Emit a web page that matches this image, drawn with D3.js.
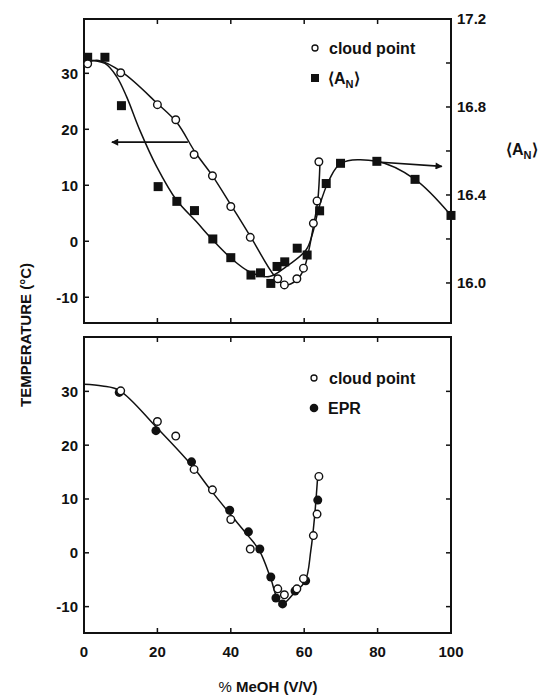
<!DOCTYPE html>
<html>
<head>
<meta charset="utf-8">
<script src="https://cdn.jsdelivr.net/npm/d3@7"></script>
<style>
  body { margin: 0; background: #fff; }
  text { font-family: "Liberation Sans", Arial, sans-serif; font-weight: bold; fill: #111; }
</style>
</head>
<body>
<script>
var width = 559,
    height = 696;

// cloud point (both panels, first point only in top panel)
var cloudX = [1, 10, 20, 25, 30, 35, 40, 45.3, 52.8, 54.6, 58, 59.8, 62.5, 63.5, 64];
var cloudT = [31.7, 30.1, 24.4, 21.7, 15.5, 11.7, 6.2, 0.7, -6.7, -7.8, -6.7, -4.8, 3.2, 7.2, 14.2];

// <A_N> squares, top panel, right axis
var anX = [1, 5.7, 10.2, 20.2, 25.3, 30.1, 35.1, 40, 45.5, 48.1, 50.9, 52.6, 54.7, 58.1, 60.8, 64.2, 66, 69.9, 79.8, 90.2, 100];
var anV = [17.026, 17.026, 16.806, 16.438, 16.371, 16.329, 16.2, 16.115, 16.036, 16.046, 15.998, 16.075, 16.096, 16.158, 16.127, 16.328, 16.452, 16.544, 16.553, 16.471, 16.307];

// EPR, bottom panel
var eprX = [9.6, 19.6, 29.3, 39.7, 44.8, 47.9, 50.9, 52.3, 54.1, 57.5, 60.4, 63.7];
var eprT = [29.8, 22.7, 16.9, 7.9, 3.9, 0.7, -4.5, -8.4, -9.5, -7.1, -5.2, 9.8];

// fitted curves
var fitCloudX = [0, 4, 10.4, 20, 25.3, 30.3, 35.1, 40.3, 45.5, 51.8, 54.7, 58, 60, 62.6, 63.7, 64.3];
var fitCloudT = [31.8, 32.3, 30.2, 24.6, 21.2, 15.9, 11.6, 6.2, 0.7, -6.1, -7.8, -6.9, -4.8, 3, 7.3, 14];

var fitAnX = [0.7, 5.7, 8.9, 11.6, 15.2, 19.8, 25.2, 30.6, 35.1, 40.1, 45.1, 50.5, 55.1, 60.5, 62.3, 64.1, 66.8, 70, 79.8, 90.2, 100];
var fitAnV = [17.014, 16.998, 16.938, 16.847, 16.695, 16.529, 16.377, 16.279, 16.195, 16.112, 16.051, 16.029, 16.074, 16.15, 16.226, 16.347, 16.468, 16.544, 16.553, 16.471, 16.307];

var fitBotX = [0, 5, 9.6, 19.8, 29.3, 34.6, 39.7, 44.8, 47.8, 50.8, 52.8, 54.3, 57.2, 60.3, 61.8, 62.8, 63.7];
var fitBotT = [31.3, 31, 30.2, 23.3, 16.3, 11.6, 7.3, 3.1, 0.4, -4.6, -8.6, -9.4, -7.5, -5.2, 0.4, 6.5, 14.4];

var xTicks = [0, 20, 40, 60, 80, 100];
var tTicks = [-10, 0, 10, 20, 30];
var anTicks = [16.0, 16.4, 16.8, 17.2];
var anMinor = [16.2, 16.6, 17.0];

var x = d3.scaleLinear().domain([0, 100]).range([84, 451]);
var yTop = d3.scaleLinear().domain([-14.6, 39.7]).range([323, 19]);
var yAn = d3.scaleLinear().domain([15.818, 17.2]).range([323, 19]);
var yBot = d3.scaleLinear().domain([-14.9, 40.1]).range([633, 337]);

var svg = d3.select("body").append("svg")
    .attr("width", width)
    .attr("height", height);

var defs = svg.append("defs");
defs.append("marker")
    .attr("id", "arrow")
    .attr("viewBox", "0 0 10 10")
    .attr("refX", 9).attr("refY", 5)
    .attr("markerWidth", 12).attr("markerHeight", 7)
    .attr("markerUnits", "userSpaceOnUse")
    .attr("orient", "auto")
  .append("path")
    .attr("d", "M0,0 L10,5 L0,10 Z")
    .attr("fill", "#111");

function zip(xs, ys) { return xs.map(function(v, i) { return [v, ys[i]]; }); }

function frame(y, ticksT) {
  var g = svg.append("g");
  var y0 = y.range()[0], y1 = y.range()[1];
  g.append("rect")
      .attr("x", x(0)).attr("y", y1)
      .attr("width", x(100) - x(0)).attr("height", y0 - y1)
      .attr("fill", "none").attr("stroke", "#111").attr("stroke-width", 2);
  // inward ticks
  [20, 40, 60, 80].forEach(function(v) {
    g.append("line").attr("x1", x(v)).attr("x2", x(v)).attr("y1", y0).attr("y2", y0 - 5)
        .attr("stroke", "#111").attr("stroke-width", 1.5);
    g.append("line").attr("x1", x(v)).attr("x2", x(v)).attr("y1", y1).attr("y2", y1 + 5)
        .attr("stroke", "#111").attr("stroke-width", 1.5);
  });
  ticksT.forEach(function(v) {
    g.append("line").attr("x1", x(0)).attr("x2", x(0) + 5).attr("y1", y(v)).attr("y2", y(v))
        .attr("stroke", "#111").attr("stroke-width", 1.5);
    g.append("text").attr("x", x(0) - 6).attr("y", y(v)).attr("dy", "0.36em")
        .attr("text-anchor", "end").attr("font-size", 15).text(v < 0 ? "-" + Math.abs(v) : v);
  });
  return g;
}

var lineStyle = function(sel) {
  return sel.attr("fill", "none").attr("stroke", "#111").attr("stroke-width", 1.5);
};

// ---------- top panel ----------
var gTop = frame(yTop, tTicks);

// right axis ticks
anTicks.forEach(function(v) {
  gTop.append("line").attr("x1", x(100)).attr("x2", x(100) - 5).attr("y1", yAn(v)).attr("y2", yAn(v))
      .attr("stroke", "#111").attr("stroke-width", 1.5);
  gTop.append("text").attr("x", x(100) + 6).attr("y", yAn(v)).attr("dy", "0.36em")
      .attr("font-size", 15).text(v.toFixed(1));
});
anMinor.forEach(function(v) {
  gTop.append("line").attr("x1", x(100)).attr("x2", x(100) - 5).attr("y1", yAn(v)).attr("y2", yAn(v))
      .attr("stroke", "#111").attr("stroke-width", 1.5);
});

var lineT = d3.line().x(d => x(d[0])).y(d => yTop(d[1])).curve(d3.curveCatmullRom.alpha(0.5));
var lineA = d3.line().x(d => x(d[0])).y(d => yAn(d[1])).curve(d3.curveCatmullRom.alpha(0.5));
var lineB = d3.line().x(d => x(d[0])).y(d => yBot(d[1])).curve(d3.curveCatmullRom.alpha(0.5));

gTop.append("path").datum(zip(fitCloudX, fitCloudT)).call(lineStyle).attr("d", lineT);
gTop.append("path").datum(zip(fitAnX, fitAnV)).call(lineStyle).attr("d", lineA);

// arrows
gTop.append("line")
    .attr("x1", x(28.3)).attr("x2", x(7.6))
    .attr("y1", yTop(17.7)).attr("y2", yTop(17.7))
    .attr("stroke", "#111").attr("stroke-width", 1.7)
    .attr("marker-end", "url(#arrow)");
gTop.append("line")
    .attr("x1", x(80)).attr("x2", x(97.5))
    .attr("y1", yAn(16.55)).attr("y2", yAn(16.53))
    .attr("stroke", "#111").attr("stroke-width", 1.7)
    .attr("marker-end", "url(#arrow)");

gTop.selectAll("rect.sq").data(zip(anX, anV)).enter().append("rect")
    .attr("class", "sq")
    .attr("x", d => x(d[0]) - 4.5).attr("y", d => yAn(d[1]) - 4.5)
    .attr("width", 9).attr("height", 9)
    .attr("fill", "#111");

gTop.selectAll("circle.cp").data(zip(cloudX, cloudT)).enter().append("circle")
    .attr("class", "cp")
    .attr("cx", d => x(d[0])).attr("cy", d => yTop(d[1])).attr("r", 3.8)
    .attr("fill", "#fff").attr("stroke", "#111").attr("stroke-width", 1.4);

// legend top
gTop.append("circle").attr("cx", 315).attr("cy", 48).attr("r", 3)
    .attr("fill", "#fff").attr("stroke", "#111").attr("stroke-width", 1.3);
gTop.append("text").attr("x", 329).attr("y", 48).attr("dy", "0.36em").attr("font-size", 16).text("cloud point");
gTop.append("rect").attr("x", 311).attr("y", 74).attr("width", 8).attr("height", 8).attr("fill", "#111");
var lt = gTop.append("text").attr("x", 328).attr("y", 78).attr("dy", "0.36em").attr("font-size", 16);
lt.append("tspan").text("\u27E8A");
lt.append("tspan").attr("font-size", 11).attr("dy", 4).text("N");
lt.append("tspan").attr("dy", -4).text("\u27E9");

// right axis title
var rt = svg.append("text").attr("x", 506).attr("y", 149).attr("dy", "0.36em").attr("font-size", 16);
rt.append("tspan").text("\u27E8A");
rt.append("tspan").attr("font-size", 11).attr("dy", 4).text("N");
rt.append("tspan").attr("dy", -4).text("\u27E9");

// ---------- bottom panel ----------
var gBot = frame(yBot, tTicks);
tTicks.forEach(function(v) {
  gBot.append("line").attr("x1", x(100)).attr("x2", x(100) - 5).attr("y1", yBot(v)).attr("y2", yBot(v))
      .attr("stroke", "#111").attr("stroke-width", 1.5);
});

gBot.append("path").datum(zip(fitBotX, fitBotT)).call(lineStyle).attr("d", lineB);

gBot.selectAll("circle.epr").data(zip(eprX, eprT)).enter().append("circle")
    .attr("class", "epr")
    .attr("cx", d => x(d[0])).attr("cy", d => yBot(d[1])).attr("r", 4.5)
    .attr("fill", "#111");

gBot.selectAll("circle.cp").data(zip(cloudX.slice(1), cloudT.slice(1))).enter().append("circle")
    .attr("class", "cp")
    .attr("cx", d => x(d[0])).attr("cy", d => yBot(d[1])).attr("r", 3.8)
    .attr("fill", "#fff").attr("stroke", "#111").attr("stroke-width", 1.4);

// legend bottom
gBot.append("circle").attr("cx", 314).attr("cy", 378).attr("r", 3)
    .attr("fill", "#fff").attr("stroke", "#111").attr("stroke-width", 1.3);
gBot.append("text").attr("x", 329).attr("y", 378).attr("dy", "0.36em").attr("font-size", 16).text("cloud point");
gBot.append("circle").attr("cx", 314).attr("cy", 408).attr("r", 4.3).attr("fill", "#111");
gBot.append("text").attr("x", 328).attr("y", 408).attr("dy", "0.36em").attr("font-size", 16).text("EPR");

// x tick labels
xTicks.forEach(function(v) {
  svg.append("text").attr("x", x(v)).attr("y", 652).attr("dy", "0.36em")
      .attr("text-anchor", "middle").attr("font-size", 15).text(v);
});

// axis titles
var xt = svg.append("text").attr("x", 268).attr("y", 687).attr("dy", "0.36em")
    .attr("text-anchor", "middle").attr("font-size", 15);
xt.append("tspan").attr("font-weight", "normal").text("% ");
xt.append("tspan").text("MeOH (V/V)");

svg.append("text")
    .attr("transform", "translate(26,335) rotate(-90)")
    .attr("text-anchor", "middle").attr("dy", "0.36em")
    .attr("font-size", 15)
    .text("TEMPERATURE (\u00B0C)");
</script>
</body>
</html>
